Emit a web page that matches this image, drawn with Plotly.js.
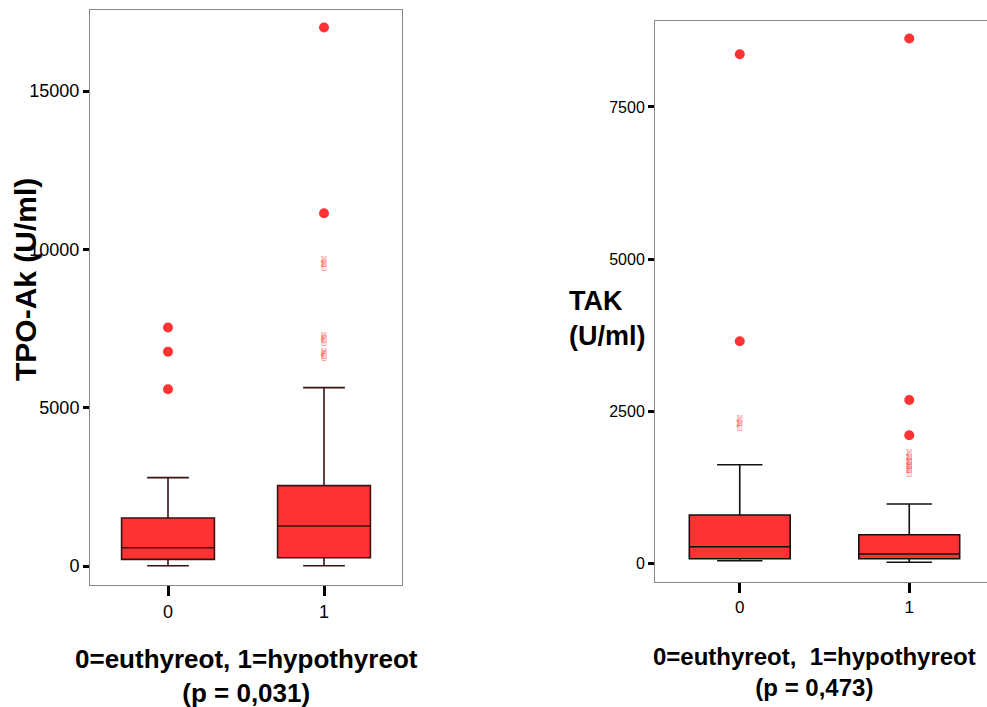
<!DOCTYPE html>
<html>
<head>
<meta charset="utf-8">
<script src="https://cdn.plot.ly/plotly-3.0.1.min.js"></script>
<style>
html,body{margin:0;padding:0;overflow:hidden;background:#fff;}
#chart{width:1000px;height:707px;}
</style>
</head>
<body>
<div id="chart"></div>
<script>
// ---- Data ----
const categories = ['0', '1'];

// TPO-Ak (U/ml)
const tpoQ1 = [210, 262];
const tpoMedian = [578, 1264];
const tpoQ3 = [1516, 2537];
const tpoLower = [10, 10];
const tpoUpper = [2790, 5633];
const tpoOutX = ['0', '0', '0', '1', '1'];
const tpoOutY = [7530, 6770, 5580, 17006, 11143];
const tpoExtX = ['1', '1', '1', '1', '1', '1'];
const tpoExtY = [9450, 9560, 7080, 7160, 6580, 6650];
const tpoTicks = [0, 5000, 10000, 15000];

// TAK (U/ml)
const takQ1 = [71, 71];
const takMedian = [268, 148];
const takQ3 = [790, 466];
const takLower = [38, 12];
const takUpper = [1617, 970];
const takOutX = ['0', '0', '1', '1', '1'];
const takOutY = [8368, 3647, 8625, 2681, 2100];
const takExtX = ['0', '0', '1', '1', '1', '1', '1'];
const takExtY = [2230, 2320, 1750, 1680, 1610, 1540, 1480];
const takTicks = [0, 2500, 5000, 7500];

// ---- Styles ----
const red = '#ff3333';
const W = 1000, H = 707;
const px = v => v / W;
const py = v => 1 - v / H;

function boxTrace(q1, med, q3, lo, hi, xa, ya, lineColor) {
  return {
    type: 'box', x: categories, q1: q1, median: med, q3: q3,
    lowerfence: lo, upperfence: hi,
    xaxis: xa, yaxis: ya,
    fillcolor: red, line: {color: lineColor, width: 1.6},
    whiskerwidth: 0.45, boxpoints: false, hoverinfo: 'skip', showlegend: false
  };
}
function outTrace(x, y, xa, ya) {
  return {type: 'scatter', mode: 'markers', x: x, y: y, xaxis: xa, yaxis: ya,
    marker: {symbol: 'circle', size: 10, color: red}, showlegend: false, hoverinfo: 'skip'};
}
function extTrace(x, y, xa, ya) {
  return {type: 'scatter', mode: 'text', x: x, y: y, xaxis: xa, yaxis: ya,
    text: y.map(() => '✌'), textposition: 'middle center',
    textfont: {family: 'DejaVu Sans', size: 15, color: 'rgba(255,70,70,0.85)'},
    showlegend: false, hoverinfo: 'skip'};
}

const fam = 'Liberation Sans, Arial, sans-serif';
const axisCommon = {
  showgrid: false, zeroline: false, showline: true, linecolor: '#888', linewidth: 1,
  ticks: 'outside', tickcolor: '#000', tickwidth: 3, fixedrange: true
};

const layout = {
  width: W, height: H,
  margin: {l: 0, r: 0, t: 0, b: 0},
  paper_bgcolor: '#fff', plot_bgcolor: '#fff',
  boxgap: 0.15,
  font: {family: fam, color: '#000', size: 17},
  xaxis: Object.assign({}, axisCommon, {
    domain: [px(90), px(402)], anchor: 'y', type: 'category',
    range: [-0.5, 1.5], mirror: true, ticklen: 10,
    tickfont: {family: fam, size: 18, color: '#000'}
  }),
  yaxis: Object.assign({}, axisCommon, {
    domain: [py(585), py(10)], anchor: 'x', range: [-600, 17560], mirror: true,
    tickvals: tpoTicks, ticktext: tpoTicks.map(String),
    ticklen: 6, tickfont: {family: fam, size: 18, color: '#000'}
  }),
  xaxis2: Object.assign({}, axisCommon, {
    domain: [px(655), px(994)], anchor: 'y2', type: 'category',
    range: [-0.5, 1.5], mirror: true, ticklen: 10,
    tickfont: {family: fam, size: 17, color: '#000'}
  }),
  yaxis2: Object.assign({}, axisCommon, {
    domain: [py(582), py(21)], anchor: 'x2', range: [-312, 8914], mirror: true,
    tickvals: takTicks, ticktext: takTicks.map(String),
    ticklen: 6, tickfont: {family: fam, size: 16, color: '#000'}
  }),
  annotations: [
    {xref: 'paper', yref: 'paper', x: px(25), y: py(280), text: '<b>TPO-Ak (U/ml)</b>',
     textangle: -90, showarrow: false, font: {size: 30, color: '#000'}, xanchor: 'center', yanchor: 'middle'},
    {xref: 'paper', yref: 'paper', x: px(567), y: py(318), text: '<b>TAK<br>(U/ml)</b>',
     showarrow: false, align: 'left', xanchor: 'left', yanchor: 'middle', font: {size: 27, color: '#000'}},
    {xref: 'paper', yref: 'paper', x: px(246), y: py(676), text: '<b>0=euthyreot, 1=hypothyreot<br>(p = 0,031)</b>',
     showarrow: false, align: 'center', xanchor: 'center', yanchor: 'middle', font: {size: 26, color: '#000'}},
    {xref: 'paper', yref: 'paper', x: px(814), y: py(672), text: '<b>0=euthyreot,  1=hypothyreot<br>(p = 0,473)</b>',
     showarrow: false, align: 'center', xanchor: 'center', yanchor: 'middle', font: {size: 24, color: '#000'}}
  ]
};

const data = [
  boxTrace(tpoQ1, tpoMedian, tpoQ3, tpoLower, tpoUpper, 'x', 'y', '#3a1212'),
  outTrace(tpoOutX, tpoOutY, 'x', 'y'),
  extTrace(tpoExtX, tpoExtY, 'x', 'y'),
  boxTrace(takQ1, takMedian, takQ3, takLower, takUpper, 'x2', 'y2', '#111111'),
  outTrace(takOutX, takOutY, 'x2', 'y2'),
  extTrace(takExtX, takExtY, 'x2', 'y2')
];

Plotly.newPlot('chart', data, layout, {displayModeBar: false, staticPlot: true});
</script>
</body>
</html>
